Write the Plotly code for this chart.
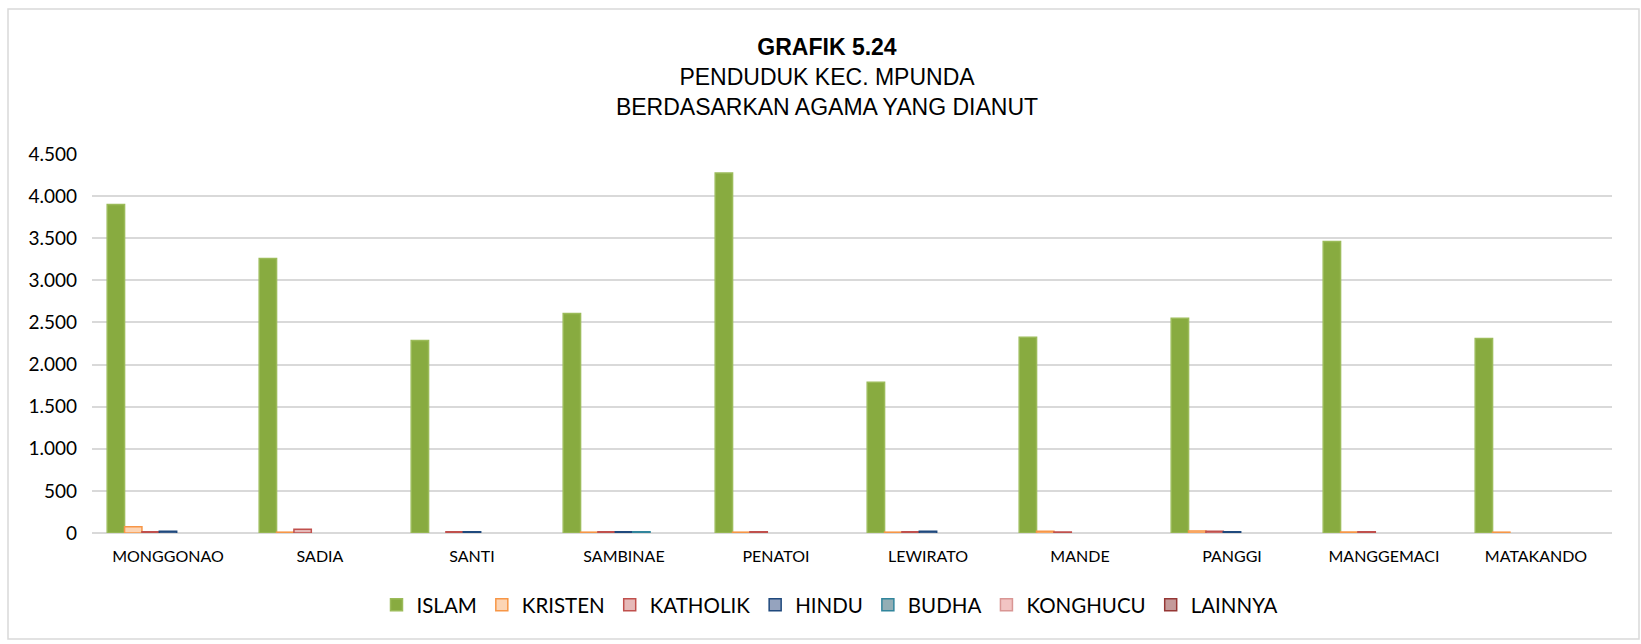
import plotly.graph_objects as go

# Kelurahan / desa di Kec. Mpunda
desa = ["MONGGONAO", "SADIA", "SANTI", "SAMBINAE", "PENATOI",
        "LEWIRATO", "MANDE", "PANGGI", "MANGGEMACI", "MATAKANDO"]

# Jumlah penduduk menurut agama
islam = [3900, 3260, 2285, 2605, 4275, 1790, 2325, 2550, 3460, 2310]
kristen = [75, 10, 0, 10, 10, 10, 20, 25, 12, 10]
katholik = [15, 45, 15, 15, 15, 15, 12, 20, 15, 0]
hindu = [20, 0, 15, 15, 0, 20, 0, 15, 0, 0]
budha = [0, 0, 0, 15, 0, 0, 0, 0, 0, 0]
konghucu = [0, 0, 0, 0, 0, 0, 0, 0, 0, 0]
lainnya = [0, 0, 0, 0, 0, 0, 0, 0, 0, 0]

y_ticks = [0, 500, 1000, 1500, 2000, 2500, 3000, 3500, 4000, 4500]

series = [
    ("ISLAM", islam, "#88AB40", "#9BBB59"),
    ("KRISTEN", kristen, "#FCD5B5", "#F79646"),
    ("KATHOLIK", katholik, "#E6B9B8", "#C0504D"),
    ("HINDU", hindu, "#95A3BE", "#1F497D"),
    ("BUDHA", budha, "#93AEB5", "#31859C"),
    ("KONGHUCU", konghucu, "#F2C4C3", "#D99694"),
    ("LAINNYA", lainnya, "#C49A9A", "#953735"),
]

fig = go.Figure()
for name, vals, fill, line in series:
    # zero counts are left empty so no outline is drawn for them
    shown = [v if v > 0 else None for v in vals]
    fig.add_trace(go.Bar(
        name=name, x=desa, y=shown,
        marker=dict(color=fill, line=dict(color=line, width=1.5)),
    ))

# plot area: x 92..1612, y 154..533 (pixels)
L, R, T, B = 92, 1612, 154, 533
W, H = R - L, B - T


def px(x):
    return (x - L) / W


def py(y):
    return (B - y) / H


fig.update_layout(
    width=1641, height=644,
    margin=dict(l=L, r=1641 - R, t=T, b=644 - B),
    paper_bgcolor="white", plot_bgcolor="white",
    barmode="group", bargap=0.2, bargroupgap=0,
    separators=",.",
    font=dict(family="Lato, 'Open Sans', sans-serif", color="#000000"),
    title=dict(
        text="<b>GRAFIK 5.24</b><br>PENDUDUK KEC. MPUNDA<br>BERDASARKAN AGAMA YANG DIANUT",
        font=dict(family="'Liberation Sans', Arial, sans-serif", size=23, color="#000000"),
        x=827 / 1641, xanchor="center", xref="container",
        y=1 - 55 / 644, yanchor="top", yref="container",
    ),
    xaxis=dict(
        showgrid=False, showline=False, zeroline=False,
        tickfont=dict(size=16, family="Lato, sans-serif"),
        ticklabelstandoff=12,
    ),
    yaxis=dict(
        range=[0, 4500], tickvals=y_ticks, tickformat=",d",
        showgrid=True, gridcolor="#D9D9D9", gridwidth=1.5,
        zeroline=True, zerolinecolor="#D9D9D9", zerolinewidth=1.5,
        showline=False,
        tickfont=dict(size=19, family="Lato, sans-serif"),
        ticklabelstandoff=14,
    ),
    legend=dict(
        orientation="h", x=px(830), xanchor="center",
        y=py(605), yanchor="middle",
        font=dict(size=20.5, family="Lato, sans-serif"),
        itemwidth=30, traceorder="normal",
    ),
    shapes=[dict(
        type="rect", xref="paper", yref="paper",
        x0=px(8), x1=px(1639), y0=py(639), y1=py(9),
        line=dict(color="#D9D9D9", width=1.5), fillcolor="rgba(0,0,0,0)",
        layer="below",
    )],
)

fig.write_html("out.html")
